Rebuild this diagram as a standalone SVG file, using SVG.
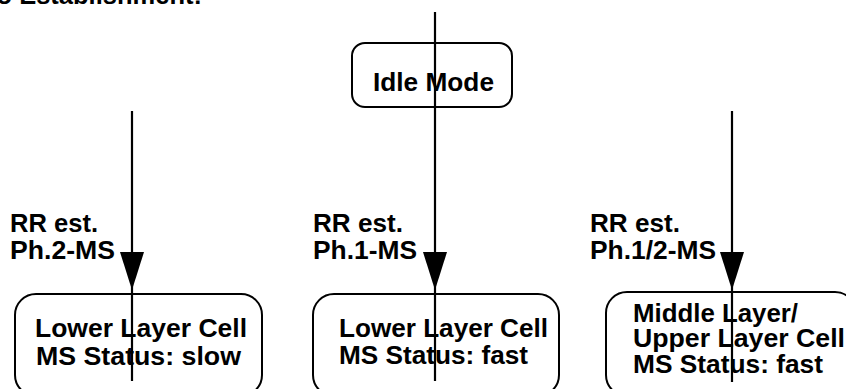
<svg xmlns="http://www.w3.org/2000/svg" xmlns:xlink="http://www.w3.org/1999/xlink" width="846" height="389" viewBox="0 0 846 389">
<style>
text{font-family:"Liberation Sans",Arial,sans-serif;font-weight:bold;font-size:25px;fill:#000}
.idle{font-size:26px}
.box{fill:#fff;stroke:#000;stroke-width:2}
.wire{stroke:#000;stroke-width:2.2;fill:none}
.head{fill:#000;stroke:none}
</style>
<defs>
<polygon id="ah" class="head" points="-12,0 12,0 0,38"/>
</defs>
<rect width="846" height="389" fill="#fff"/>
<text x="-3.5" y="4" textLength="205.5" lengthAdjust="spacingAndGlyphs">o Establishment:</text>

<g id="idle">
<rect class="box" x="352" y="43" width="160" height="64" rx="13"/>
<text class="idle" x="373" y="91" textLength="121" lengthAdjust="spacingAndGlyphs">Idle Mode</text>
</g>

<g id="lower-slow">
<rect class="box" x="15" y="294" width="247" height="102" rx="21"/>
<text x="35" y="337" textLength="212" lengthAdjust="spacingAndGlyphs">Lower Layer Cell</text>
<text x="36" y="365" textLength="205" lengthAdjust="spacingAndGlyphs">MS Status: slow</text>
</g>

<g id="lower-fast">
<rect class="box" x="313" y="294" width="246" height="102" rx="21"/>
<text x="339" y="337" textLength="209" lengthAdjust="spacingAndGlyphs">Lower Layer Cell</text>
<text x="339" y="364" textLength="189" lengthAdjust="spacingAndGlyphs">MS Status: fast</text>
</g>

<g id="upper-fast">
<rect class="box" x="606" y="292" width="250" height="104" rx="21"/>
<text x="633" y="322" textLength="165" lengthAdjust="spacingAndGlyphs">Middle Layer/</text>
<text x="633" y="347" textLength="212" lengthAdjust="spacingAndGlyphs">Upper Layer Cell</text>
<text x="633" y="373" textLength="190" lengthAdjust="spacingAndGlyphs">MS Status: fast</text>
</g>

<g id="labels">
<text x="10" y="232" textLength="88" lengthAdjust="spacingAndGlyphs">RR est.</text>
<text x="10" y="259" textLength="105" lengthAdjust="spacingAndGlyphs">Ph.2-MS</text>
<text x="313" y="232" textLength="90" lengthAdjust="spacingAndGlyphs">RR est.</text>
<text x="313" y="259" textLength="104" lengthAdjust="spacingAndGlyphs">Ph.1-MS</text>
<text x="590" y="232" textLength="90" lengthAdjust="spacingAndGlyphs">RR est.</text>
<text x="590" y="259" textLength="126" lengthAdjust="spacingAndGlyphs">Ph.1/2-MS</text>
</g>

<g id="connectors">
<line class="wire" x1="132" y1="111" x2="132" y2="381"/>
<use xlink:href="#ah" x="132" y="252"/>
<line class="wire" x1="435" y1="12" x2="435" y2="381"/>
<use xlink:href="#ah" x="435" y="252"/>
<line class="wire" x1="732" y1="111" x2="732" y2="382"/>
<use xlink:href="#ah" x="732" y="252"/>
</g>
</svg>
